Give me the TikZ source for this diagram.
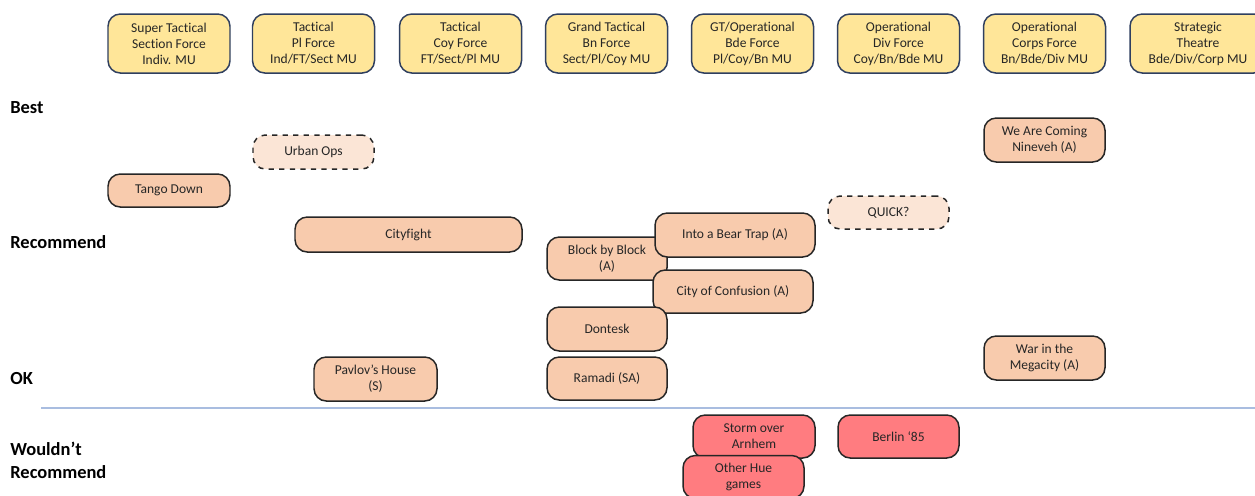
\documentclass[tikz,border=0pt]{standalone}
\usepackage{fontspec}
\setmainfont{Carlito}[Ligatures=NoCommon]
\usepackage{tikz}

\definecolor{headfill}{HTML}{FFE699}
\definecolor{headline}{HTML}{2F3F5F}
\definecolor{gamefill}{HTML}{F8CBAD}
\definecolor{ideafill}{HTML}{FBE5D6}
\definecolor{badfill}{HTML}{FF7C80}
\definecolor{rulecol}{HTML}{A9BDE0}

\tikzset{
	box/.style={shape=rectangle, rounded corners=7, line width=0.85pt, align=center,
		inner sep=0pt, font=\fontsize{7.7}{9.1}\selectfont, text=black!85},
	levelbox/.style={box, draw=headline, fill=headfill, minimum width=122*0.02cm, minimum height=59*0.02cm},
	game/.style={box, draw=black!85, fill=gamefill},
	idea/.style={box, draw=black!85, fill=ideafill, dashed},
	poor/.style={box, draw=black!85, fill=badfill},
	rating/.style={anchor=west, align=left, inner sep=0pt, font=\fontsize{10.5}{13}\selectfont\bfseries}
}

\begin{document}
\begin{tikzpicture}[x=0.02cm, y=-0.02cm]
	\path[use as bounding box] (0,0) rectangle (1255,495);
	\clip (0,0) rectangle (1255,495);

	% scale of play
	\node[levelbox] (sct)  at (169, 43.5)    {Super Tactical\\Section Force\\Indiv. MU};
	\node[levelbox] (tpl)  at (313.5, 43.5)  {Tactical\\Pl Force\\Ind/FT/Sect MU};
	\node[levelbox] (tcoy) at (460.5, 43.5)  {Tactical\\Coy Force\\FT/Sect/Pl MU};
	\node[levelbox] (gt)   at (606.5, 43.5)  {Grand Tactical\\Bn Force\\Sect/Pl/Coy MU};
	\node[levelbox] (gto)  at (752.5, 43.5)  {GT/Operational\\Bde Force\\Pl/Coy/Bn MU};
	\node[levelbox] (odiv) at (898.5, 43.5)  {Operational\\Div Force\\Coy/Bn/Bde MU};
	\node[levelbox] (ocor) at (1044.5, 43.5) {Operational\\Corps Force\\Bn/Bde/Div MU};
	\node[levelbox, minimum width=136*0.02cm] (strat) at (1198, 43.5) {Strategic\\Theatre\\Bde/Div/Corp MU};

	% ratings
	\node[rating] (best) at (10, 108) {Best};
	\node[rating] (rec)  at (10, 242) {Recommend};
	\node[rating] (ok)   at (10, 379) {OK};
	\node[rating] (nrec) at (10, 460.5) {Wouldn’t\\Recommend};

	\coordinate (cutl) at (41, 408);
	\coordinate (cutr) at (1255, 408);
	\draw[rulecol, line width=0.7pt] (cutl) -- (cutr);

	% games
	\node[game, minimum width=122*0.02cm, minimum height=33*0.02cm] (tango) at (169, 190.5) {Tango Down};
	\node[idea, minimum width=121*0.02cm, minimum height=34*0.02cm] (urban) at (313.5, 152) {Urban Ops};
	\node[game, minimum width=121*0.02cm, minimum height=44*0.02cm] (nineveh) at (1044.5, 140) {We Are Coming\\Nineveh (A)};
	\node[idea, minimum width=121*0.02cm, minimum height=33*0.02cm] (quick) at (888.5, 212.5) {QUICK?};
	\node[game, minimum width=227*0.02cm, minimum height=35*0.02cm] (cityfight) at (408.5, 234.5) {Cityfight};
	\node[game, minimum width=120*0.02cm, minimum height=43*0.02cm] (block) at (607, 258.5) {Block by Block\\(A)};
	\node[game, minimum width=160*0.02cm, minimum height=44*0.02cm] (bear) at (735, 235) {Into a Bear Trap (A)};
	\node[game, minimum width=160*0.02cm, minimum height=43*0.02cm] (confusion) at (733, 291.5) {City of Confusion (A)};
	\node[game, minimum width=120*0.02cm, minimum height=44*0.02cm] (dontesk) at (607, 329) {Dontesk};
	\node[game, minimum width=123*0.02cm, minimum height=44*0.02cm] (pavlov) at (375.5, 379) {Pavlov’s House\\(S)};
	\node[game, minimum width=120*0.02cm, minimum height=43*0.02cm] (ramadi) at (607, 378.5) {Ramadi (SA)};
	\node[game, minimum width=121*0.02cm, minimum height=44*0.02cm] (megacity) at (1044.5, 358) {War in the\\Megacity (A)};

	\node[poor, minimum width=122*0.02cm, minimum height=43*0.02cm] (storm) at (754, 436.5) {Storm over\\Arnhem};
	\node[poor, minimum width=121*0.02cm, minimum height=43*0.02cm] (berlin) at (898.5, 436.5) {Berlin ‘85};
	\node[poor, minimum width=121*0.02cm, minimum height=43*0.02cm] (hue) at (743.5, 477) {Other Hue\\games};
\end{tikzpicture}
\end{document}
